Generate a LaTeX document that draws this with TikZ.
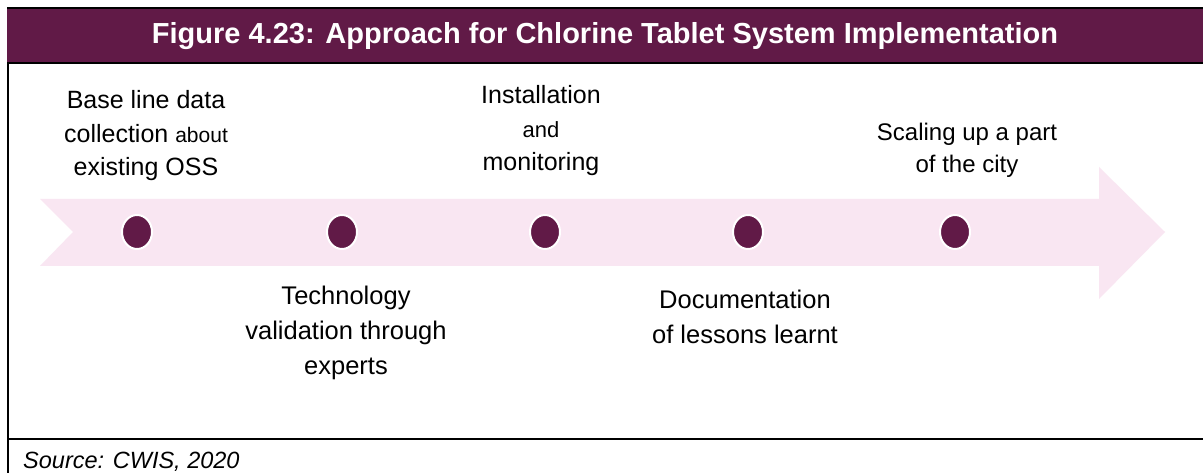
\documentclass[tikz,border=0pt]{standalone}
\usepackage{fontspec}
\usetikzlibrary{shapes.geometric}
\setmainfont{Liberation Sans}
\definecolor{plum}{HTML}{611A47}
\definecolor{blush}{HTML}{F9E6F2}
\begin{document}
\begin{tikzpicture}[x=1pt,y=-1pt,
  dot/.style={ellipse,draw=white,line width=2pt,fill=plum,minimum width=30pt,minimum height=34pt,inner sep=0pt},
  label/.style={inner sep=0pt,align=center,font=\fontsize{25}{33.5}\selectfont},
  rule/.style={black,line width=2.5pt}]
\useasboundingbox (0,0) rectangle (1203,473);
\fill[white] (0,0) rectangle (1203,473);
% header
\fill[plum] (7,8) rectangle (1203,63);
\draw[rule] (7,8) -- (1203,8);
\draw[rule] (7,63) -- (1203,63);
\node[text=white,font=\bfseries\fontsize{29}{34}\selectfont,inner sep=0pt] (title) at (605,36) {Figure 4.23: Approach for Chlorine Tablet System Implementation};
% frame
\draw[black,line width=2pt] (8,63) -- (8,473);
\draw[rule] (8,439) -- (1203,439);
\node[anchor=west,inner sep=0pt,font=\itshape\fontsize{23.5}{28}\selectfont] (src) at (23,462) {Source: CWIS, 2020};
% arrow band
\fill[blush] (40,199) -- (1099,199) -- (1099,167) -- (1165,232) -- (1099,299) -- (1099,266) -- (40,266) -- (73,232) -- cycle;
% dots
\node[dot] (d1) at (137,232) {};
\node[dot] (d2) at (342,232) {};
\node[dot] (d3) at (545,232) {};
\node[dot] (d4) at (748,232) {};
\node[dot] (d5) at (955,232) {};
% labels
\node[label] (t1) at (146,136) {Base line data\\collection {\fontsize{21}{33.5}\selectfont about}\\existing OSS};
\node[label,font=\fontsize{25.5}{35}\selectfont] (t2) at (346,333) {Technology\\validation through\\experts};
\node[label] (t3) at (541,131) {Installation\\{\fontsize{22}{33.5}\selectfont and}\\monitoring};
\node[label,font=\fontsize{25.5}{35}\selectfont] (t4) at (745,317) {Documentation\\of lessons learnt};
\node[label,font=\fontsize{24}{32}\selectfont] (t5) at (967,150) {Scaling up a part\\of the city};
\end{tikzpicture}
\end{document}
